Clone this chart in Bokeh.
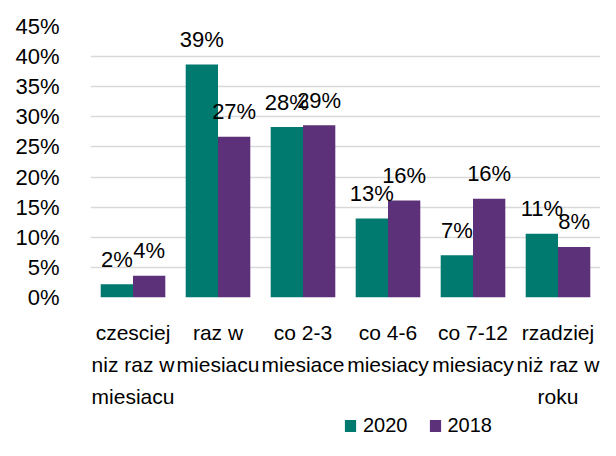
from bokeh.plotting import figure
from bokeh.layouts import column
from bokeh.models import (ColumnDataSource, Range1d, Legend, LegendItem,
                          PrintfTickFormatter, FixedTicker, LinearAxis)
from bokeh.transform import dodge
from bokeh.core.properties import value
from bokeh.embed import file_html
from bokeh.resources import INLINE

categories = ["czesciej niz raz w miesiacu", "raz w miesiacu", "co 2-3 miesiace",
              "co 4-6 miesiacy", "co 7-12 miesiacy", "rzadziej niż raz w roku"]
category_lines = [["czesciej", "niz raz w", "miesiacu"], ["raz w", "miesiacu", ""],
                  ["co 2-3", "miesiace", ""], ["co 4-6", "miesiacy", ""],
                  ["co 7-12", "miesiacy", ""], ["rzadziej", "niż raz w", "roku"]]
series_names = ["2020", "2018"]
values_2020 = [2.2, 38.7, 28.3, 13.1, 7.0, 10.6]
values_2018 = [3.6, 26.7, 28.6, 16.1, 16.4, 8.4]
y_ticks = [0, 5, 10, 15, 20, 25, 30, 35, 40, 45]

FONT = "Liberation Sans"
C2020 = "#00796E"
C2018 = "#5C3179"

n = len(categories)
centers = [i + 0.5 for i in range(n)]

src = ColumnDataSource(dict(
    xc=centers,
    v2020=values_2020,
    v2018=values_2018,
    l2020=[f"{round(v)}%" for v in values_2020],
    l2018=[f"{round(v)}%" for v in values_2018],
))

p = figure(x_range=Range1d(0, n), y_range=(0, 45),
           width=600, height=410, output_backend="svg", toolbar_location=None,
           x_axis_location=None,
           min_border_left=90, min_border_right=0, min_border_top=26, min_border_bottom=112)
p.outline_line_color = None

p.vbar(x=dodge("xc", -0.19), top="v2020", width=0.38, source=src,
       fill_color=C2020, line_color=None)
p.vbar(x=dodge("xc", 0.19), top="v2018", width=0.38, source=src,
       fill_color=C2018, line_color=None)

for col, lab, off in [("v2020", "l2020", -0.19), ("v2018", "l2018", 0.19)]:
    p.text(x=dodge("xc", off), y=col, text=lab, source=src,
           text_font=value(FONT), text_font_size="22px", text_color="#000000",
           text_align="center", text_baseline="alphabetic", y_offset=-25)

p.xgrid.visible = False
p.ygrid.grid_line_color = "#D9D9D9"
p.ygrid.grid_line_width = 1.6
p.ygrid.ticker = FixedTicker(ticks=y_ticks)

p.yaxis.ticker = FixedTicker(ticks=y_ticks)
p.yaxis.formatter = PrintfTickFormatter(format="%d%%")
p.yaxis.axis_line_color = None
p.yaxis.major_tick_line_color = None
p.yaxis.minor_tick_line_color = None
p.yaxis.major_label_standoff = 25
p.yaxis.major_label_text_font = FONT
p.yaxis.major_label_text_font_size = "22px"
p.yaxis.major_label_text_color = "#000000"

# category labels: one axis per text line
for k, standoff in enumerate([23, 6, 6]):
    ax = LinearAxis(ticker=FixedTicker(ticks=centers),
                    major_label_overrides={c: lines[k] for c, lines in zip(centers, category_lines)},
                    axis_line_color=None, major_tick_line_color=None, minor_tick_line_color=None,
                    major_tick_out=0, major_tick_in=0, minor_tick_out=0, minor_tick_in=0,
                    major_label_standoff=standoff,
                    major_label_text_font=FONT, major_label_text_font_size="21px",
                    major_label_text_color="#000000")
    p.add_layout(ax, "below")

# legend strip below the chart (its bars lie outside its ranges; only the legend shows)
pl = figure(width=600, height=30, output_backend="svg", toolbar_location=None,
            x_range=Range1d(-20, -10), y_range=Range1d(-20, -10),
            x_axis_location=None, y_axis_location=None, min_border=0)
pl.outline_line_color = None
pl.grid.visible = False
g1 = pl.vbar(x="xc", top="v2020", width=0.38, source=src, fill_color=C2020, line_color=None)
g2 = pl.vbar(x="xc", top="v2018", width=0.38, source=src, fill_color=C2018, line_color=None)
legend = Legend(items=[LegendItem(label=series_names[0], renderers=[g1]),
                       LegendItem(label=series_names[1], renderers=[g2])],
                orientation="horizontal", location=(253, 3),
                glyph_width=14, glyph_height=15, label_standoff=6, spacing=20,
                padding=0, margin=0, border_line_color=None, background_fill_alpha=0,
                label_text_font=FONT, label_text_font_size="20px", label_text_color="#000000")
pl.add_layout(legend, "center")

layout = column(p, pl, spacing=0)
open("out.html", "w").write(file_html(layout, INLINE))
